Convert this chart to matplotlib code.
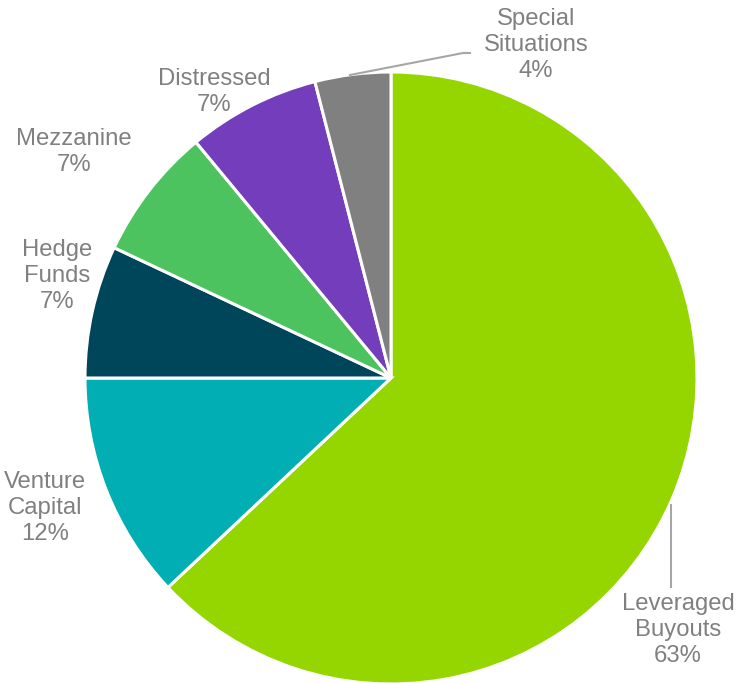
import matplotlib
matplotlib.use("Agg")
import matplotlib.pyplot as plt

categories = ["Leveraged\nBuyouts", "Venture\nCapital", "Hedge\nFunds", "Mezzanine", "Distressed", "Special\nSituations"]
values = [63, 12, 7, 7, 7, 4]
colors = ["#95d600", "#00aeb3", "#00465a", "#4cc35f", "#733dbb", "#808080"]

W, H = 738, 683
fig = plt.figure(figsize=(W / 100, H / 100), dpi=100)
ax = fig.add_axes([0, 0, 1, 1])
ax.set_xlim(0, W)
ax.set_ylim(0, H)
ax.set_aspect("equal")
ax.axis("off")

cx, cy, r = 391, H - 378, 306
ax.pie(values, colors=colors, startangle=90, counterclock=False,
       center=(cx, cy), radius=r,
       wedgeprops=dict(edgecolor="white", linewidth=2.2))
ax.set_xlim(0, W)
ax.set_ylim(0, H)

# label positions in image pixel coords (centre of text block)
label_pos = [(678, 630), (45, 508), (57, 276), (74, 152), (214, 92), (536, 45)]
txtcol = "#808080"
for cat, v, (x, y) in zip(categories, values, label_pos):
    ax.text(x, H - y, f"{cat}\n{v}%", ha="center", va="center", fontsize=17.2,
            color=txtcol, family="Liberation Sans", linespacing=1.22)

lc = "#a6a6a6"
ax.plot([350, 463, 470], [H - 75, H - 53, H - 53], color=lc, lw=1.5)
ax.plot([671, 671], [H - 505, H - 587], color=lc, lw=1.5)

fig.savefig("out.png", dpi=100)
